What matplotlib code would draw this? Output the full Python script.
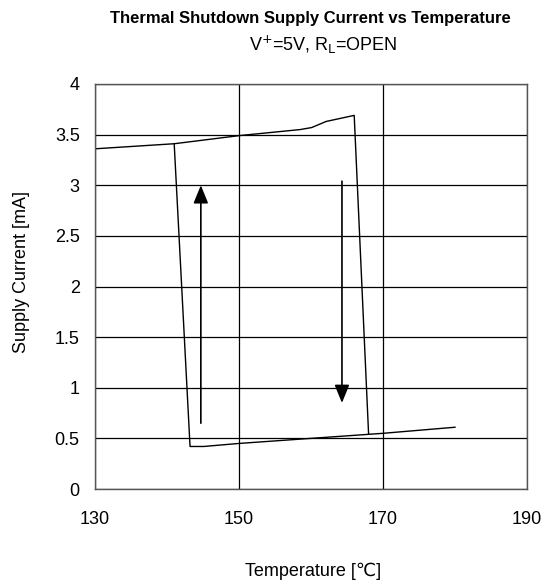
import matplotlib.pyplot as plt

plt.rcParams['font.family'] = ['Liberation Sans', 'DejaVu Sans']

# heating path (top branch, then drop, then bottom right)
heat_t = [130, 141.0, 150, 158.5, 160.1, 162.1, 166.0, 168.0, 170, 180]
heat_i = [3.36, 3.41, 3.49, 3.55, 3.57, 3.63, 3.69, 0.54, 0.55, 0.61]
# cooling path (bottom branch, then jump back up)
cool_t = [168.0, 150, 145.1, 143.2, 141.0]
cool_i = [0.54, 0.45, 0.42, 0.42, 3.41]

# direction arrows: (temp, start, end)
arrow_up = (144.7, 0.65, 3.0)
arrow_down = (164.3, 3.04, 0.85)

xticks = [130, 150, 170, 190]
yticks = [0, 0.5, 1, 1.5, 2, 2.5, 3, 3.5, 4]
ytick_labels = ['0', '0.5', '1', '1.5', '2', '2.5', '3', '3.5', '4']

fig = plt.figure(figsize=(5.54, 5.88), dpi=100)
ax = fig.add_axes([95/554, 1-489/588, 432/554, 405/588])

ax.plot(heat_t, heat_i, color='black', lw=1.0)
ax.plot(cool_t, cool_i, color='black', lw=1.0)

for t, y0, y1 in [arrow_up, arrow_down]:
    ax.annotate('', xy=(t, y1), xytext=(t, y0),
                arrowprops=dict(arrowstyle='-|>,head_length=1.1,head_width=0.45',
                                color='black', lw=1.2, shrinkA=0, shrinkB=0))

ax.set_xlim(130, 190)
ax.set_ylim(0, 4)
ax.set_xticks(xticks)
ax.set_yticks(yticks)
ax.set_yticklabels(ytick_labels)
ax.grid(True, color='black', lw=0.9)
ax.tick_params(length=0, labelsize=13)
ax.tick_params(axis='x', pad=16)
ax.tick_params(axis='y', pad=11)
for s in ax.spines.values():
    s.set_color('#555555')
    s.set_linewidth(1.0)

ax.set_xlabel('Temperature [\u2103]', fontsize=13)
ax.xaxis.label.set_va('center')
ax.xaxis.set_label_coords((313-95)/432, (489-571)/405)
ax.set_ylabel('Supply Current [mA]', fontsize=13)
ax.yaxis.label.set_va('center')
ax.yaxis.set_label_coords((22-95)/432, (489-272)/405)

fig.text(310/554, 1-19/588, 'Thermal Shutdown Supply Current vs Temperature',
         ha='center', va='center', fontsize=12, fontweight='bold')
fig.text(323/554, 1-45/588, 'V$^{+}$=5V, R$_{\\mathrm{L}}$=OPEN',
         ha='center', va='center', fontsize=13)

fig.savefig('out.png', dpi=100)
